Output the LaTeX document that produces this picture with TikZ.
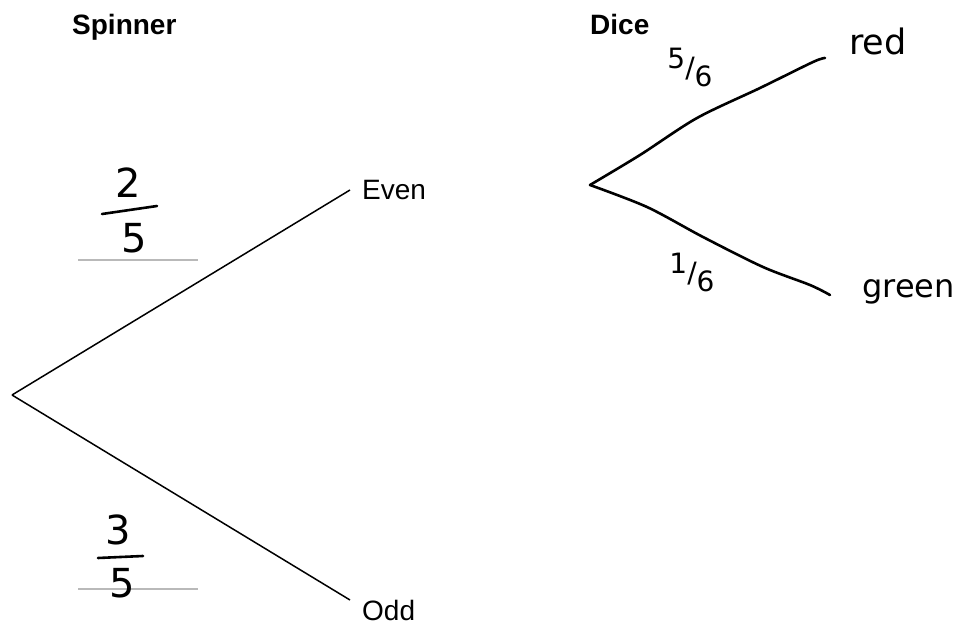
\documentclass[tikz,border=0pt]{standalone}
\usepackage{fontspec}
\setmainfont{Liberation Sans}
\newfontfamily\hand{DejaVu Sans}
\begin{document}
\begin{tikzpicture}[x=1pt,y=-1pt,
  title/.style={font=\fontsize{28}{32}\selectfont\bfseries, inner sep=0, anchor=base west},
  leaf/.style={font=\fontsize{28}{32}\selectfont, anchor=west, inner sep=0},
  branch/.style={line width=1.5pt, black},
  ink/.style={line width=2.6pt, black, line cap=round, line join=round},
  handtxt/.style={inner sep=0},
  guide/.style={line width=1.6pt, gray!55}]
\useasboundingbox (0,0) rectangle (962,626);
% titles
\node[title] (tspin) at (72,35) {Spinner};
\node[title] (tdice) at (590,35) {Dice};
% spinner tree
\coordinate (root) at (12,395);
\node[leaf] (even) at (362,190) {Even};
\node[leaf] (odd) at (362,610) {Odd};
\coordinate (evenend) at (350,190);
\coordinate (oddend) at (350,600);
\draw[branch] (root) -- (evenend);
\draw[branch] (root) -- (oddend);
% guide lines
\coordinate (g1a) at (78,260); \coordinate (g1b) at (198,260);
\coordinate (g2a) at (78,589); \coordinate (g2b) at (198,589);
\draw[guide] (g1a) -- (g1b);
\draw[guide] (g2a) -- (g2b);
% fraction 2/5
\node[handtxt, font=\hand\fontsize{40}{40}\selectfont] (n2) at (128,183) {2};
\node[handtxt, font=\hand\fontsize{40}{40}\selectfont] (d5a) at (134,238) {5};
\coordinate (b1a) at (102,214); \coordinate (b1b) at (157,206);
\draw[ink] (b1a) -- (b1b);
% fraction 3/5
\node[handtxt, font=\hand\fontsize{40}{40}\selectfont] (n3) at (118,530) {3};
\node[handtxt, font=\hand\fontsize{40}{40}\selectfont] (d5b) at (122,583) {5};
\coordinate (b2a) at (98,558); \coordinate (b2b) at (143,556);
\draw[ink] (b2a) -- (b2b);
% dice tree
\coordinate (droot) at (590,185);
\node[handtxt, font=\hand\fontsize{35}{35}\selectfont, anchor=base west] (red) at (849,55) {red};
\node[handtxt, font=\hand\fontsize{32}{32}\selectfont, anchor=base west] (green) at (862,297) {green};
\coordinate (u1) at (640,155); \coordinate (u2) at (697,118);
\coordinate (u3) at (760,88); \coordinate (u4) at (813,62);
\coordinate (redend) at (825,58);
\coordinate (l1) at (647,207); \coordinate (l2) at (703,237);
\coordinate (l3) at (763,267); \coordinate (l4) at (810,285);
\coordinate (greenend) at (830,295);
\draw[ink] plot[smooth, tension=0.5] coordinates {(droot) (u1) (u2) (u3) (u4) (redend)};
\draw[ink] plot[smooth, tension=0.5] coordinates {(droot) (l1) (l2) (l3) (l4) (greenend)};
\node[handtxt, font=\hand\fontsize{28}{28}\selectfont] (p56) at (690,67) {\raisebox{9pt}{5}/\raisebox{-9pt}{6}};
\node[handtxt, font=\hand\fontsize{28}{28}\selectfont] (p16) at (692,272) {\raisebox{9pt}{1}/\raisebox{-9pt}{6}};
\end{tikzpicture}
\end{document}
